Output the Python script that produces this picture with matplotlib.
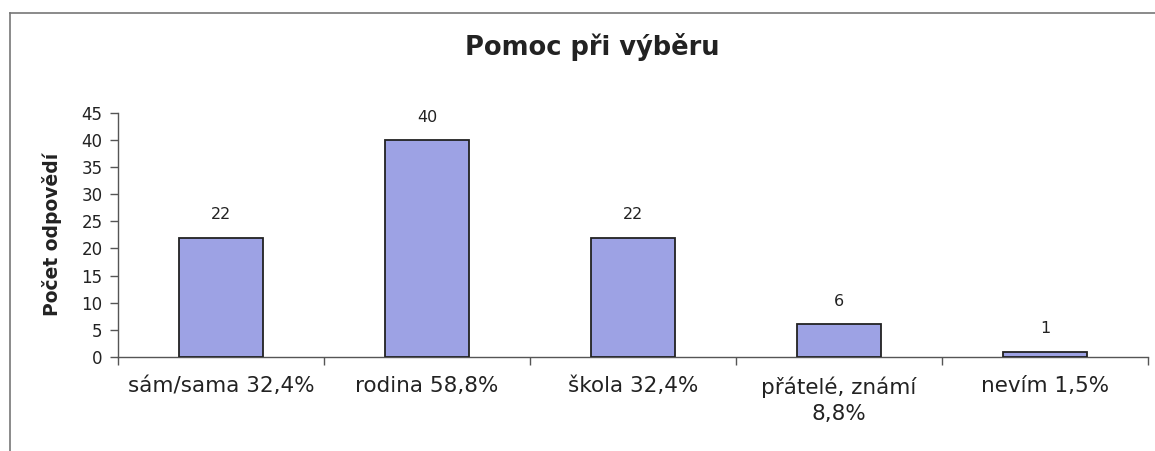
import matplotlib.pyplot as plt
from matplotlib.lines import Line2D

categories = ['sám/sama 32,4%', 'rodina 58,8%', 'škola 32,4%', 'přátelé, známí\n8,8%', 'nevím 1,5%']
values = [22, 40, 22, 6, 1]
y_ticks = [0, 5, 10, 15, 20, 25, 30, 35, 40, 45]

plt.rcParams['font.family'] = ['DejaVu Sans']

fig = plt.figure(figsize=(11.55, 4.51), dpi=100)
ax = fig.add_axes([118 / 1155, 94 / 451, 1030 / 1155, 244.3 / 451])

x = list(range(len(categories)))
ax.bar(x, values, width=0.41, color='#9DA2E4', edgecolor='#222222', linewidth=1.3, zorder=3)

for i, v in zip(x, values):
    ax.annotate(str(v), (i, v), xytext=(0, 11), textcoords='offset points',
                ha='center', va='bottom', fontsize=11.5, color='#222222')

ax.set_xlim(-0.5, len(categories) - 0.5)
ax.set_ylim(0, 45)
ax.set_yticks(y_ticks)
ax.set_xticks(x)
ax.set_xticklabels(categories, fontsize=15.5, color='#222222', linespacing=1.4)
ax.set_xticks([i - 0.5 for i in range(len(categories) + 1)], minor=True)
ax.tick_params(axis='x', which='major', length=0, pad=14)
ax.tick_params(axis='x', which='minor', length=6, width=1, color='#555555', direction='out')
ax.tick_params(axis='y', labelsize=12, labelcolor='#222222', length=6, width=1,
               color='#555555', direction='out', pad=5)

for s in ['top', 'right']:
    ax.spines[s].set_visible(False)
for s in ['left', 'bottom']:
    ax.spines[s].set_color('#555555')
    ax.spines[s].set_linewidth(1)

ax.set_ylabel('Počet odpovědí', fontsize=13.5, fontweight='bold', color='#222222')
ax.yaxis.set_label_coords(-0.054, 0.5)

fig.text(592 / 1155, 1 - 47 / 451, 'Pomoc při výběru', ha='center', va='center',
         fontsize=18.5, fontweight='bold', color='#222222')

# outer frame (top and left edges of the chart area)
fig.add_artist(Line2D([10 / 1155, 1], [1 - 13 / 451, 1 - 13 / 451], transform=fig.transFigure,
                      color='#777777', linewidth=1.2))
fig.add_artist(Line2D([10 / 1155, 10 / 1155], [1 - 13 / 451, 0], transform=fig.transFigure,
                      color='#777777', linewidth=1.2))

plt.savefig('out.png', dpi=100)
plt.close()
